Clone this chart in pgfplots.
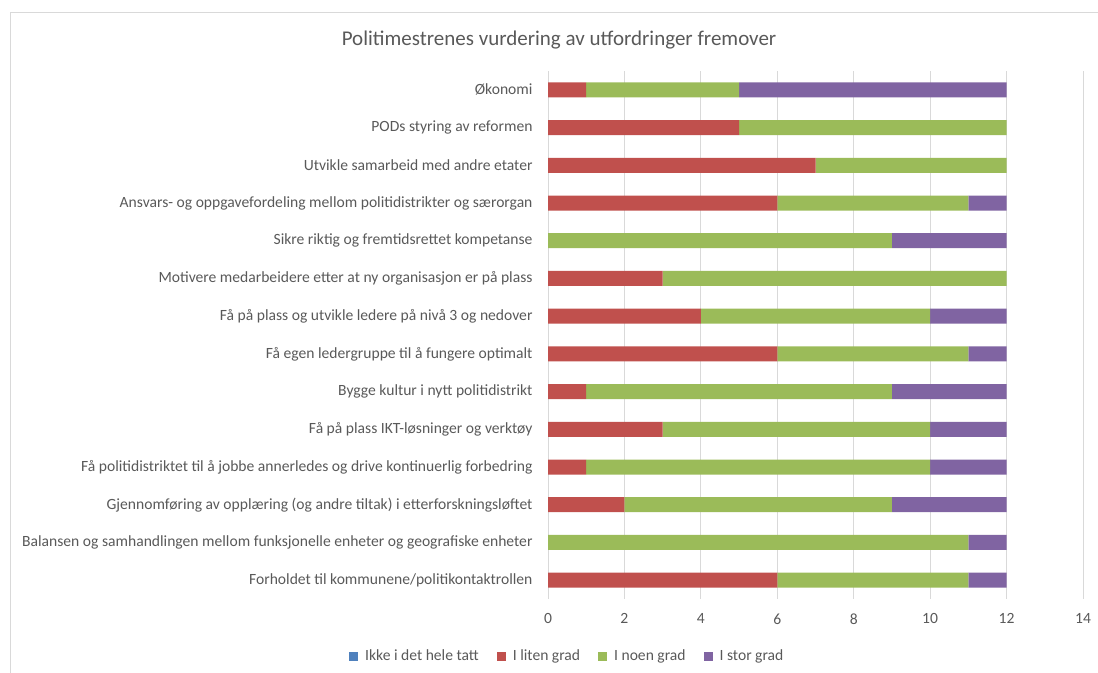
\documentclass[border=0pt]{standalone}
\usepackage{pgfplots}
\pgfplotsset{compat=1.18}
\usepackage{fontspec}
\setmainfont{Carlito}
\definecolor{cblue}{HTML}{4F81BD}
\definecolor{cred}{HTML}{C0504D}
\definecolor{cgreen}{HTML}{9BBB59}
\definecolor{cpurple}{HTML}{8064A2}
\definecolor{ctext}{HTML}{595959}
\definecolor{cgrid}{HTML}{D9D9D9}
\begin{document}
\begin{tikzpicture}
\path[use as bounding box] (0,0) rectangle (1098bp,673bp);
\draw[cgrid,line width=0.8bp] (10bp,-5bp) -- (10bp,661bp) -- (1110bp,661bp);
\node[text=ctext,font=\fontsize{21bp}{25bp}\selectfont] at (559bp,633bp) {Politimestrenes vurdering av utfordringer fremover};
\begin{axis}[
  at={(548bp,74bp)}, anchor=south west,
  scale only axis, width=535bp, height=528bp,
  xbar stacked, bar width=15bp,
  xmin=0, xmax=14, ymin=-0.5, ymax=13.5,
  y dir=reverse,
  xtick={0,2,...,14},
  ytick={0,...,13},
  yticklabels={{Økonomi},{PODs styring av reformen},{Utvikle samarbeid med andre etater},{Ansvars- og oppgavefordeling mellom politidistrikter og særorgan},{Sikre riktig og fremtidsrettet kompetanse},{Motivere medarbeidere etter at ny organisasjon er på plass},{Få på plass og utvikle ledere på nivå 3 og nedover},{Få egen ledergruppe til å fungere optimalt},{Bygge kultur i nytt politidistrikt},{Få på plass IKT-løsninger og verktøy},{Få politidistriktet til å jobbe annerledes og drive kontinuerlig forbedring},{Gjennomføring av opplæring (og andre tiltak) i etterforskningsløftet},{Balansen og samhandlingen mellom funksjonelle enheter og geografiske enheter},{Forholdet til kommunene/politikontaktrollen}},
  xmajorgrids, grid style={cgrid,line width=0.8bp},
  axis line style={draw=none}, tick style={draw=none},
  major tick length=0pt,
  /pgf/number format/assume math mode=true,
  ticklabel style={text=ctext,font=\fontsize{15.6bp}{18bp}\selectfont},
  yticklabel style={xshift=-12bp},
  xticklabel style={yshift=-11bp},
  legend columns=4,
  legend style={at={(0.036,-0.108)},anchor=center,draw=none,fill=none,
    font=\fontsize{15.6bp}{18bp}\selectfont,text=ctext,
    /tikz/every odd column/.append style={column sep=5bp},
    /tikz/every even column/.append style={column sep=16bp}},
  legend image code/.code={\fill[#1] (0bp,-4.5bp) rectangle (9bp,4.5bp);},
]
\addplot[fill=cblue,draw=none] coordinates {(0,0) (0,1) (0,2) (0,3) (0,4) (0,5) (0,6) (0,7) (0,8) (0,9) (0,10) (0,11) (0,12) (0,13)};
\addplot[fill=cred,draw=none] coordinates {(1,0) (5,1) (7,2) (6,3) (0,4) (3,5) (4,6) (6,7) (1,8) (3,9) (1,10) (2,11) (0,12) (6,13)};
\addplot[fill=cgreen,draw=none] coordinates {(4,0) (7,1) (5,2) (5,3) (9,4) (9,5) (6,6) (5,7) (8,8) (7,9) (9,10) (7,11) (11,12) (5,13)};
\addplot[fill=cpurple,draw=none] coordinates {(7,0) (0,1) (0,2) (1,3) (3,4) (0,5) (2,6) (1,7) (3,8) (2,9) (2,10) (3,11) (1,12) (1,13)};
\legend{Ikke i det hele tatt,I liten grad,I noen grad,I stor grad}
\end{axis}
\end{tikzpicture}
\end{document}
